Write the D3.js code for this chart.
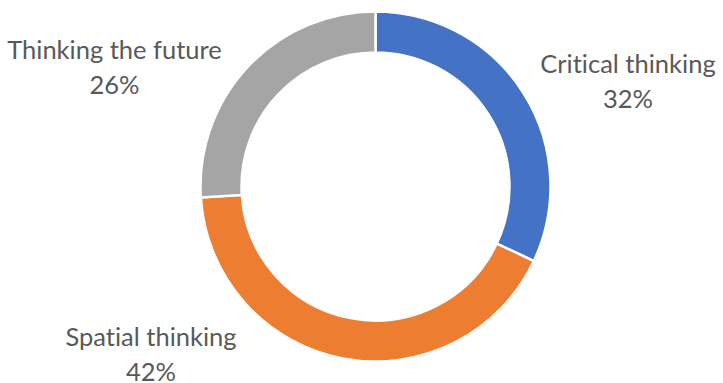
<!DOCTYPE html>
<html>
<head>
<meta charset="utf-8">
<script src="https://cdn.jsdelivr.net/npm/d3@7"></script>
<style>
  html, body { margin: 0; padding: 0; background: #fff; }
  svg { display: block; }
  .lbl {
    font-family: Lato, "Open Sans", sans-serif;
    fill: #595959;
    font-variant-ligatures: none;
    font-feature-settings: "liga" 0, "clig" 0;
  }
</style>
</head>
<body>
<svg id="chart" width="723" height="383"></svg>
<script>
// Share of thinking skills
const categories = ["Critical thinking", "Spatial thinking", "Thinking the future"];
const values = [32, 42, 26];
const colors = ["#4472C4", "#ED7D31", "#A5A5A5"];

const width = 723, height = 383;
const cx = 375.5, cy = 186.5;
const outerR = 175, innerR = 134;

// label block positions (x centre, first baseline), per category
const labelAnchors = {
  "Critical thinking":   [628, 72.5],
  "Spatial thinking":    [151, 346],
  "Thinking the future": [114.5, 59]
};
const lineGap = 35;
const fontSize = 25.5;

const svg = d3.select("#chart");
const g = svg.append("g").attr("transform", `translate(${cx},${cy})`);

const data = categories.map((c, i) => ({ name: c, value: values[i], color: colors[i] }));
const total = d3.sum(values);

const pie = d3.pie().value(d => d.value).sort(null);
const arc = d3.arc().innerRadius(innerR).outerRadius(outerR);

g.selectAll("path.slice")
  .data(pie(data))
  .join("path")
  .attr("class", "slice")
  .attr("d", arc)
  .attr("fill", d => d.data.color)
  .attr("stroke", "#fff")
  .attr("stroke-width", 2.5)
  .attr("stroke-linejoin", "miter");

const fmt = d3.format(".0%");
const labels = svg.selectAll("text.lbl")
  .data(data)
  .join("text")
  .attr("class", "lbl")
  .attr("text-anchor", "middle")
  .attr("font-size", fontSize)
  .attr("x", d => labelAnchors[d.name][0])
  .attr("y", d => labelAnchors[d.name][1]);

labels.append("tspan")
  .attr("x", d => labelAnchors[d.name][0])
  .text(d => d.name);
labels.append("tspan")
  .attr("x", d => labelAnchors[d.name][0])
  .attr("dy", lineGap)
  .text(d => fmt(d.value / total));
</script>
</body>
</html>
